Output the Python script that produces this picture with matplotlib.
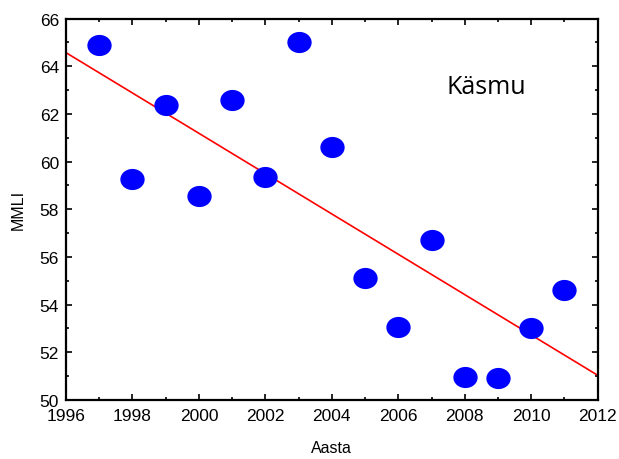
import numpy as np
import matplotlib
matplotlib.use('Agg')
import matplotlib.pyplot as plt
from matplotlib.path import Path
from matplotlib.transforms import Affine2D
from matplotlib.ticker import MultipleLocator

years = [1997, 1998, 1999, 2000, 2001, 2002, 2003, 2004,
         2005, 2006, 2007, 2008, 2009, 2010, 2011]
mmli = [64.89, 59.26, 62.37, 58.54, 62.58, 59.34, 65.01, 60.6,
        55.1, 53.08, 56.7, 50.98, 50.94, 53.04, 54.6]
site = 'Käsmu'

plt.rcParams['font.family'] = ['Liberation Sans', 'DejaVu Sans']

# ellipse marker, a bit wider than tall
ell = Path.unit_circle().transformed(Affine2D().scale(1.16, 1.0))

fig = plt.figure(figsize=(6.19, 4.6), dpi=100)
ax = fig.add_axes([0.1066, 0.1283, 0.859, 0.8293])

x = np.array(years)
y = np.array(mmli)
k, b = np.polyfit(x, y, 1)
xl = np.array([1996, 2012])
ax.plot(xl, k*xl + b, color='red', lw=1.2, zorder=2)
ax.plot(x, y, ls='none', marker=ell, ms=16.5, mfc='#0000ff', mec='#0000ff', zorder=3)

ax.set_xlim(1996, 2012)
ax.set_ylim(50, 66)
ax.xaxis.set_major_locator(MultipleLocator(2))
ax.xaxis.set_minor_locator(MultipleLocator(1))
ax.yaxis.set_major_locator(MultipleLocator(2))
ax.yaxis.set_minor_locator(MultipleLocator(1))
ax.tick_params(which='both', direction='in', top=True, right=True,
               width=1.2, labelsize=12.5)
ax.tick_params(axis='x', pad=6)
ax.tick_params(axis='y', pad=5)
ax.tick_params(which='major', length=4)
ax.tick_params(which='minor', length=2.5)
for s in ax.spines.values():
    s.set_linewidth(1.6)

ax.set_xlabel('Aasta', fontsize=11.5, labelpad=12)
ax.set_ylabel('MMLI', fontsize=11.5, labelpad=10)
ax.text(2007.44, 62.87, site, fontsize=18, family='Open Sans', va='baseline')

fig.savefig('out.png', dpi=100)
